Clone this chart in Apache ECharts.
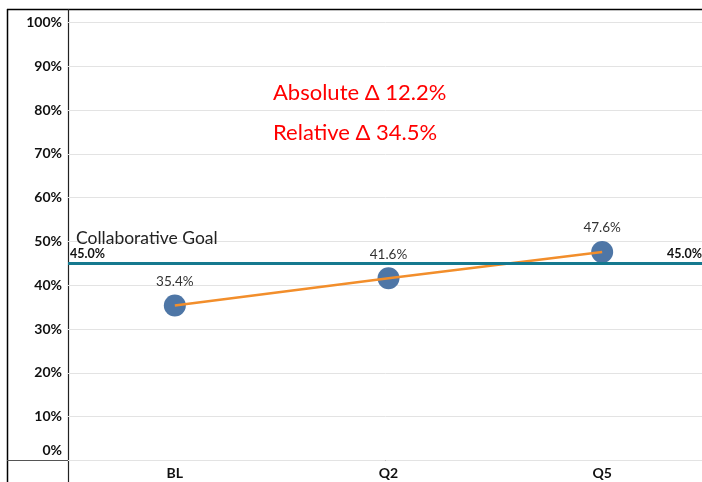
<!DOCTYPE html>
<html>
<head>
<meta charset="utf-8">
<script src="https://cdn.jsdelivr.net/npm/echarts@6/dist/echarts.min.js"></script>
<style>
html,body{margin:0;padding:0;background:#fff;}
#chart{width:702px;height:482px;}
</style>
</head>
<body>
<div id="chart"></div>
<script>
var categories = ['BL', 'Q2', 'Q5'];
var values = [35.4, 41.6, 47.6];
var goalValue = 45.0;
var goalName = 'Collaborative Goal';
var annotations = ['Absolute \u0394 12.2%', 'Relative \u0394 34.5%'];
var yTicks = [0, 10, 20, 30, 40, 50, 60, 70, 80, 90, 100];

var FONT = 'Lato, "Open Sans", sans-serif';
var chart = echarts.init(document.getElementById('chart'), null, {renderer: 'canvas'});

var option = {
  animation: false,
  backgroundColor: '#ffffff',
  textStyle: {fontFamily: FONT},
  title: [
    {text: annotations[0], left: 268, top: 77, textStyle: {color: '#ff0000', fontSize: 22, fontWeight: 'normal', fontFamily: FONT}},
    {text: annotations[1], left: 268, top: 117, textStyle: {color: '#ff0000', fontSize: 22, fontWeight: 'normal', fontFamily: FONT}},
    {text: goalName, left: 71, top: 224, textStyle: {color: '#222222', fontSize: 17.5, fontWeight: 'normal', fontFamily: FONT}}
  ],
  grid: {left: 68, top: 22.5, width: 641, height: 438, containLabel: false, outerBoundsMode: 'none'},
  xAxis: {
    type: 'category',
    data: categories,
    boundaryGap: true,
    axisLine: {show: false},
    axisTick: {show: false},
    axisLabel: {color: '#111111', fontWeight: 'bold', fontSize: 14, margin: 6, fontFamily: FONT},
    splitLine: {show: false}
  },
  yAxis: {
    type: 'value',
    min: yTicks[0],
    max: yTicks[yTicks.length - 1],
    interval: 10,
    axisLine: {show: false},
    axisTick: {show: false},
    axisLabel: {
      color: '#111111', fontWeight: 'bold', fontSize: 14, margin: 6, fontFamily: FONT,
      formatter: function (v) { return v === 0 ? '{z|' + v + '%}' : v + '%'; },
      rich: {z: {color: '#111111', fontWeight: 'bold', fontSize: 14, fontFamily: FONT, padding: [0, 0, 21, 0]}}
    },
    splitLine: {show: true, lineStyle: {color: '#e3e3e3', width: 1}}
  },
  graphic: [
    {type: 'line', shape: {x1: 7, y1: 9.5, x2: 702, y2: 9.5}, style: {stroke: '#000', lineWidth: 1.5}, silent: true},
    {type: 'line', shape: {x1: 7.5, y1: 9, x2: 7.5, y2: 482}, style: {stroke: '#000', lineWidth: 1.5}, silent: true},
    {type: 'line', shape: {x1: 68.5, y1: 9, x2: 68.5, y2: 482}, style: {stroke: '#222', lineWidth: 1.2}, silent: true},
    {type: 'line', shape: {x1: 7, y1: 460.5, x2: 702, y2: 460.5}, style: {stroke: '#555', lineWidth: 1.2}, silent: true}
  ],
  series: [
    {
      type: 'scatter',
      data: values,
      symbolSize: 22,
      z: 2,
      itemStyle: {color: '#4e76a6', opacity: 1},
      label: {
        show: true, position: 'top', distance: 6,
        formatter: function (p) { return p.value.toFixed(1) + '%'; },
        color: '#333333', fontSize: 13.5, fontFamily: FONT
      }
    },
    {
      type: 'line',
      data: values,
      symbol: 'none',
      z: 3,
      lineStyle: {color: '#f28e2b', width: 2.5},
      markLine: {
        silent: true,
        symbol: 'none',
        lineStyle: {color: '#15798f', width: 3, type: 'solid'},
        data: [
          {yAxis: goalValue, label: {show: true, position: 'insideStartTop', distance: [2, 3], formatter: goalValue.toFixed(1) + '%', color: '#111', fontWeight: 'bold', fontSize: 12.5, fontFamily: FONT}},
          {yAxis: goalValue, label: {show: true, position: 'insideEndTop', distance: [7, 3], formatter: goalValue.toFixed(1) + '%', color: '#111', fontWeight: 'bold', fontSize: 12.5, fontFamily: FONT}}
        ]
      }
    }
  ]
};
chart.setOption(option);
</script>
</body>
</html>
